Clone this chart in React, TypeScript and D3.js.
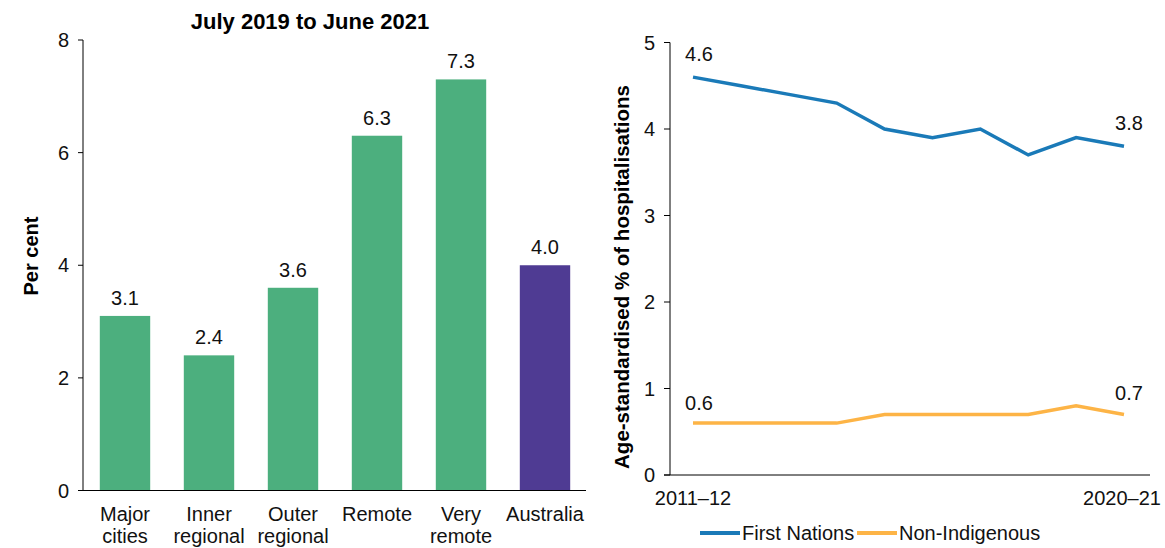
import React from "react";
import * as d3 from "d3";

const barCategories = [["Major", "cities"], ["Inner", "regional"], ["Outer", "regional"], ["Remote"], ["Very", "remote"], ["Australia"]];
const barValues = [3.1, 2.4, 3.6, 6.3, 7.3, 4.0];
const barTicks = [0, 2, 4, 6, 8];

const years = ["2011–12", "2012–13", "2013–14", "2014–15", "2015–16", "2016–17", "2017–18", "2018–19", "2019–20", "2020–21"];
const firstNations = [4.6, 4.5, 4.4, 4.3, 4.0, 3.9, 4.0, 3.7, 3.9, 3.8];
const nonIndigenous = [0.6, 0.6, 0.6, 0.6, 0.7, 0.7, 0.7, 0.7, 0.8, 0.7];
const lineTicks = [0, 1, 2, 3, 4, 5];
const xTickLabels = ["2011–12", "2020–21"];

const FONT = "'Liberation Sans', Arial, sans-serif";
const GREEN = "#4caf7e";
const PURPLE = "#4f3b93";
const BLUE = "#1a7ab8";
const ORANGE = "#fdb446";

export default function App() {
  const xb = d3.scaleBand<number>().domain(d3.range(barValues.length)).range([83, 587]).paddingInner(0.4).paddingOuter(0.2);
  const yb = d3.scaleLinear().domain([0, 8]).range([490.5, 40]);

  const xl = d3.scalePoint<string>().domain(years).range([693, 1124]);
  const yl = d3.scaleLinear().domain([0, 5]).range([475, 42.5]);
  const line = d3.line<number>().x((_, i) => xl(years[i])!).y((d) => yl(d));

  const fs = 20;
  return (
    <svg width={1165} height={548} style={{ position: "absolute", left: 0, top: 0, background: "#fff" }} fontFamily={FONT}>
      <rect width={1165} height={548} fill="#fff" />
      {/* Left chart */}
      <text x={310} y={29} textAnchor="middle" fontWeight="bold" fontSize={22} fill="#000">July 2019 to June 2021</text>
      <text transform="translate(38,256) rotate(-90)" textAnchor="middle" fontWeight="bold" fontSize={20} fill="#000">Per cent</text>
      {barValues.map((v, i) => (
        <g key={i}>
          <rect x={xb(i)} y={yb(v)} width={xb.bandwidth()} height={yb(0) - yb(v)} fill={i === barValues.length - 1 ? PURPLE : GREEN} />
          <text x={xb(i)! + xb.bandwidth() / 2} y={yb(v) - 11} textAnchor="middle" fontSize={fs} fill="#111">{v.toFixed(1)}</text>
          {barCategories[i].map((t, j) => (
            <text key={j} x={xb(i)! + xb.bandwidth() / 2} y={521 + j * 22} textAnchor="middle" fontSize={fs} fill="#111">{t}</text>
          ))}
        </g>
      ))}
      <line x1={83} x2={83} y1={yb(8)} y2={yb(0)} stroke="#000" strokeWidth={1} />
      <line x1={78} x2={586} y1={yb(0)} y2={yb(0)} stroke="#000" strokeWidth={1} />
      {barTicks.map((t) => (
        <g key={t}>
          <line x1={78} x2={83} y1={yb(t)} y2={yb(t)} stroke="#000" />
          <text x={69} y={yb(t)} dy="0.35em" textAnchor="end" fontSize={fs} fill="#111">{t}</text>
        </g>
      ))}

      {/* Right chart */}
      <text transform="translate(629,277) rotate(-90)" textAnchor="middle" fontWeight="bold" fontSize={20.5} fill="#000">Age-standardised % of hospitalisations</text>
      <line x1={670} x2={670} y1={yl(5)} y2={yl(0)} stroke="#000" />
      <line x1={664} x2={1150} y1={yl(0)} y2={yl(0)} stroke="#000" />
      {lineTicks.map((t) => (
        <g key={t}>
          <line x1={664} x2={670} y1={yl(t)} y2={yl(t)} stroke="#000" />
          <text x={655} y={yl(t)} dy="0.35em" textAnchor="end" fontSize={fs} fill="#111">{t}</text>
        </g>
      ))}
      {xTickLabels.map((t, i) => (
        <text key={t} x={i === 0 ? xl(t)! : xl(t)! - 2} y={505} textAnchor="middle" fontSize={fs} fill="#111">{t}</text>
      ))}
      <path d={line(nonIndigenous)!} fill="none" stroke={ORANGE} strokeWidth={3.5} />
      <path d={line(firstNations)!} fill="none" stroke={BLUE} strokeWidth={3.5} />
      <text x={xl(years[0])! + 6} y={yl(firstNations[0]) - 16} textAnchor="middle" fontSize={fs} fill="#111">{firstNations[0].toFixed(1)}</text>
      <text x={xl(years[9])! + 5} y={yl(firstNations[9]) - 16} textAnchor="middle" fontSize={fs} fill="#111">{firstNations[9].toFixed(1)}</text>
      <text x={xl(years[0])! + 6} y={yl(nonIndigenous[0]) - 13} textAnchor="middle" fontSize={fs} fill="#111">{nonIndigenous[0].toFixed(1)}</text>
      <text x={xl(years[9])! + 5} y={yl(nonIndigenous[9]) - 14} textAnchor="middle" fontSize={fs} fill="#111">{nonIndigenous[9].toFixed(1)}</text>

      {/* Legend */}
      <line x1={700} x2={740} y1={533} y2={533} stroke={BLUE} strokeWidth={4} />
      <text x={742} y={533} dy="0.35em" fontSize={fs} fill="#111">First Nations</text>
      <line x1={857} x2={897} y1={533} y2={533} stroke={ORANGE} strokeWidth={4} />
      <text x={899} y={533} dy="0.35em" fontSize={fs} fill="#111">Non-Indigenous</text>
    </svg>
  );
}
